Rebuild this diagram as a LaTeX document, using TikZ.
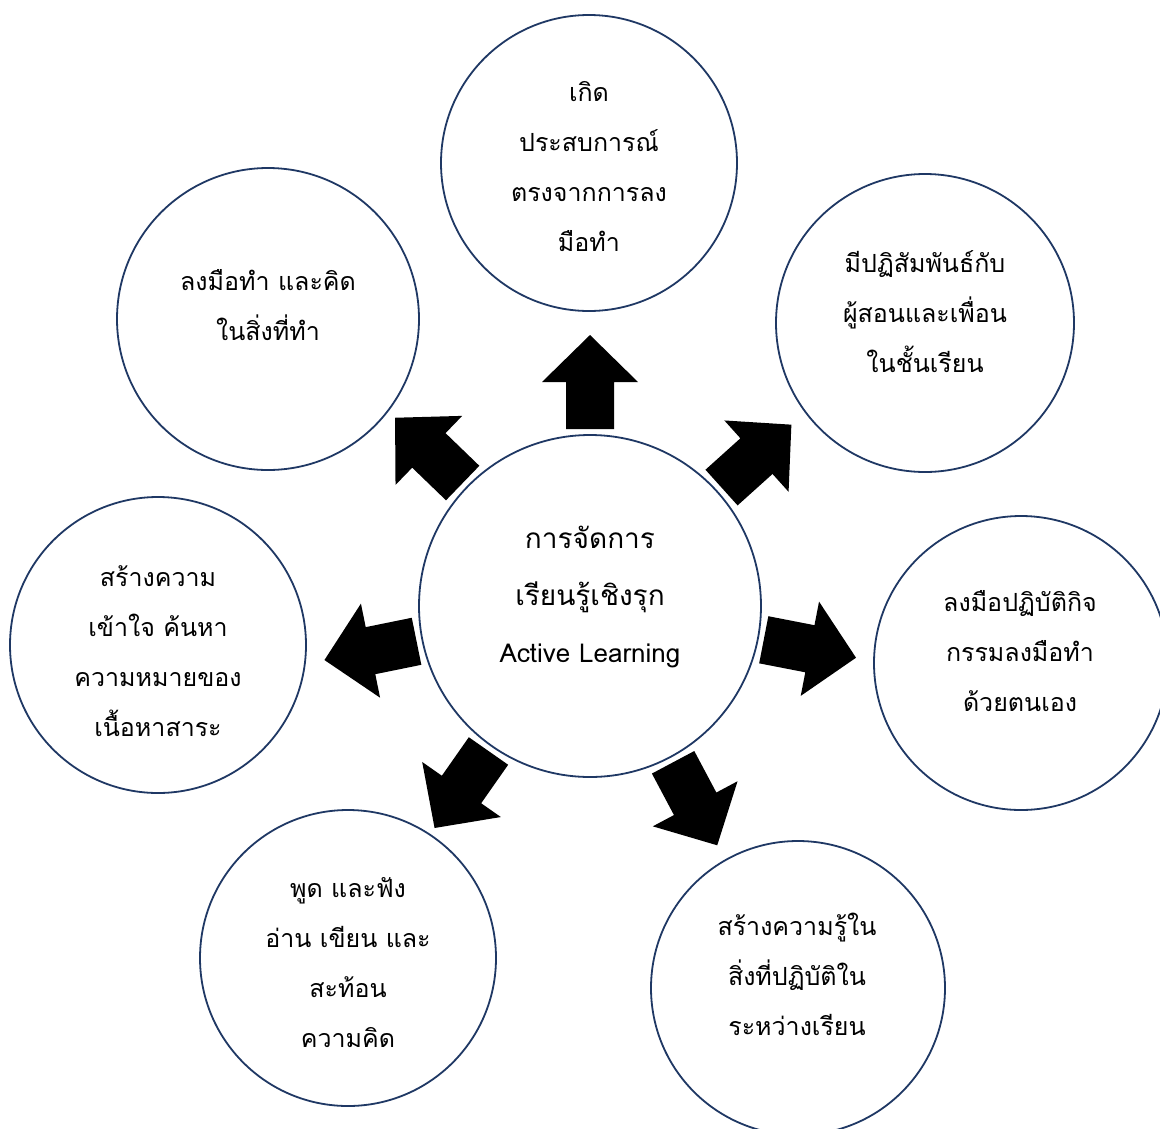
\documentclass[tikz,border=0pt]{standalone}
\usepackage{fontspec}
\setmainfont[Script=Thai]{Loma}
\definecolor{navy}{HTML}{1F3864}
\tikzset{
  bubble/.style={circle, draw=navy, line width=1.8pt, fill=white, inner sep=0pt},
  lbl/.style={align=center, font=\fontsize{25}{50}\selectfont, inner sep=0pt},
  clbl/.style={align=center, font=\fontsize{28}{57}\selectfont, inner sep=0pt},
  blockarrow/.pic={\fill[black] (177,-24) -- (224,-24) -- (224,-48) -- (271,0) -- (224,48) -- (224,24) -- (177,24) -- cycle;}
}
\begin{document}
\begin{tikzpicture}[x=1pt,y=1pt]
\useasboundingbox (0,0) rectangle (1160,-1128);
\clip (0,0) rectangle (1160,-1128);
\fill[white] (0,0) rectangle (1160,-1128);
% circles
\node[bubble, minimum size=342] (c) at (590,-606) {};
\node[bubble, minimum size=296] (top) at (589,-163) {};
\node[bubble, minimum size=302] (tl) at (268,-319) {};
\node[bubble, minimum size=298] (tr) at (925,-323) {};
\node[bubble, minimum size=296] (l) at (158,-645) {};
\node[bubble, minimum size=294] (r) at (1021,-663) {};
\node[bubble, minimum size=296] (bl) at (348,-958) {};
\node[bubble, minimum size=294] (br) at (798,-988) {};
% arrows
\pic[rotate=90] at (c) {blockarrow};
\pic[rotate=42] at (c) {blockarrow};
\pic[rotate=-11] at (c) {blockarrow};
\pic[rotate=-62] at (c) {blockarrow};
\pic[rotate=-125] at (c) {blockarrow};
\pic[rotate=-168.5] at (c) {blockarrow};
\pic[rotate=136] at (c) {blockarrow};
% texts
\node[clbl] (ct) at (590,-597) {การจัดการ\\เรียนรู้เชิงรุก\\{\fontsize{26}{57}\selectfont Active Learning}};
\node[lbl] (topt) at (589,-167) {เกิด\\ประสบการณ์\\ตรงจากการลง\\มือทำ};
\node[lbl] (tlt) at (268,-305) {ลงมือทำ และคิด\\ในสิ่งที่ทำ};
\node[lbl] (trt) at (925,-312) {มีปฏิสัมพันธ์กับ\\ผู้สอนและเพื่อน\\ในชั้นเรียน};
\node[lbl] (lt) at (158,-651) {สร้างความ\\เข้าใจ ค้นหา\\ความหมายของ\\เนื้อหาสาระ};
\node[lbl] (rt) at (1020,-651) {ลงมือปฏิบัติกิจ\\กรรมลงมือทำ\\ด้วยตนเอง};
\node[lbl] (blt) at (348,-963) {พูด และฟัง\\อ่าน เขียน และ\\สะท้อน\\ความคิด};
\node[lbl] (brt) at (797,-974) {สร้างความรู้ใน\\สิ่งที่ปฏิบัติใน\\ระหว่างเรียน};
\end{tikzpicture}
\end{document}
